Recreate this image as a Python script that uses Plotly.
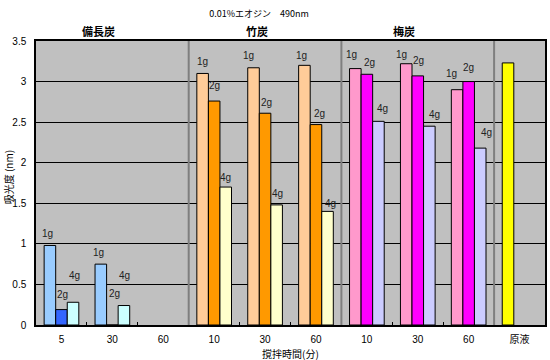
import plotly.graph_objects as go

# ---------------- data ----------------
categories = ["5", "30", "60", "10", "30", "60", "10", "30", "60", "原液"]
groups = ["備長炭", "竹炭", "梅炭"]
series_names = ["1g", "2g", "4g"]
v_1g = [0.98, 0.75, None, 3.10, 3.17, 3.20, 3.16, 3.22, 2.90]
v_2g = [0.19, 0.0, None, 2.76, 2.61, 2.47, 3.09, 3.07, 3.00]
v_4g = [0.28, 0.24, None, 1.70, 1.48, 1.40, 2.51, 2.45, 2.18]
v_genneki = [3.23]
title_text = "0.01%エオジン　490nm"
y_title = "吸光度 (nm)"
x_title = "撹拌時間(分)"

# ---------------- styles ----------------
colors_1g = ["#99CCFF"] * 3 + ["#FFCC99"] * 3 + ["#FF99CC"] * 3
colors_2g = ["#3366FF"] * 3 + ["#FF9900"] * 3 + ["#FF00FF"] * 3
colors_4g = ["#CCFFFF"] * 3 + ["#FFFFCC"] * 3 + ["#CCCCFF"] * 3
color_genneki = "#FFFF00"
bar_w = 0.227
slot_offsets = [-0.34, -0.34 + bar_w, -0.34 + 2 * bar_w]
# label offsets in pixels (dx, dy above bar top)
lbl_dx = [[-2, -2, 0, 0, -5, -3, -4, -5, -6],
          [1, 2, 0, 0, 1, 4, 3, 1, 0],
          [1, 1, 0, 0, 1, 3, 4, 5, 6]]
lbl_dy = [[12, 12, 0, 12, 12, 10, 14, 9, 16],
          [15, 32, 0, 16, 11, 11, 12, 15, 14],
          [27, 30, 0, 10, 11, 8, 13, 12, 16]]
group_label_x = [0.72, 3.85, 6.73]

FONT = "Liberation Sans, Noto Sans CJK JP, sans-serif"
JFONT = "Noto Sans CJK JP, sans-serif"

fig = go.Figure()
values = [v_1g, v_2g, v_4g]
cols = [colors_1g, colors_2g, colors_4g]
xs = list(range(9))
for i, (name, vals, col) in enumerate(zip(series_names, values, cols)):
    fig.add_trace(go.Bar(
        x=xs, y=vals, name=name, width=bar_w, offset=slot_offsets[i],
        marker=dict(color=col, line=dict(color="black", width=1)),
        showlegend=False, hoverinfo="skip"))

fig.add_trace(go.Bar(
    x=[9], y=v_genneki, name="原液", width=bar_w, offset=slot_offsets[0],
    marker=dict(color=color_genneki, line=dict(color="black", width=1)),
    showlegend=False, hoverinfo="skip"))

annotations = []
for i, (name, vals) in enumerate(zip(series_names, values)):
    for c, v in enumerate(vals):
        if v is None:
            continue
        annotations.append(dict(
            x=c + slot_offsets[i] + bar_w / 2, y=v, xref="x", yref="y",
            text=name, showarrow=False, yanchor="middle", xanchor="center",
            xshift=lbl_dx[i][c], yshift=lbl_dy[i][c],
            font=dict(family=FONT, size=10, color="#222222")))

for gx, g in zip(group_label_x, groups):
    annotations.append(dict(
        x=gx, y=1, xref="x", yref="paper", text="<b>" + g + "</b>",
        showarrow=False, yanchor="bottom", xanchor="center", yshift=0,
        font=dict(family=JFONT, size=11, color="black")))

annotations.append(dict(
    x=-0.055, y=0.52, xref="paper", yref="paper", text=y_title,
    textangle=-90, showarrow=False, xanchor="center", yanchor="middle",
    font=dict(family=JFONT, size=10, color="black")))
annotations.append(dict(
    x=0.5, y=-0.099, xref="paper", yref="paper", text=x_title,
    showarrow=False, xanchor="center", yanchor="middle",
    font=dict(family=JFONT, size=10, color="black")))

shapes = []
for sx in [2.5, 5.5, 8.5]:
    shapes.append(dict(type="line", x0=sx, x1=sx, y0=-0.01, y1=3.5,
                       xref="x", yref="y",
                       line=dict(color="#7F7F7F", width=2), layer="above"))

fig.update_layout(
    width=550, height=360,
    margin=dict(l=36, r=3, t=41, b=35),
    paper_bgcolor="white", plot_bgcolor="#C0C0C0",
    barmode="overlay",
    font=dict(family=FONT, size=10, color="black"),
    title=dict(text=title_text, x=0.471, xref="container", y=0.961,
               yref="container", xanchor="center", yanchor="middle",
               font=dict(family=JFONT, size=9, color="black")),
    annotations=annotations, shapes=shapes,
    xaxis=dict(range=[-0.5, 9.5], tickmode="array", tickvals=list(range(10)),
               ticktext=categories, ticks="", showgrid=False,
               showline=True, linecolor="black", linewidth=1.5, mirror=True,
               ticklabelstandoff=4, zeroline=False,
               tickfont=dict(family=FONT, size=10),
               minor=dict(tickmode="array",
                          tickvals=[k + 0.5 for k in range(9)],
                          ticks="inside", ticklen=3, tickcolor="black",
                          showgrid=False)),
    yaxis=dict(range=[0, 3.5], dtick=0.5, tick0=0, showgrid=True,
               gridcolor="black", gridwidth=1, showline=True,
               linecolor="black", linewidth=1.5, mirror=True, ticks="",
               zeroline=False, ticklabelstandoff=6,
               tickfont=dict(family=FONT, size=10)),
)

fig.write_html("out.html",
               config={"displayModeBar": False},
               post_script="document.body.style.margin='0';"
                           "document.body.style.overflow='hidden';")
